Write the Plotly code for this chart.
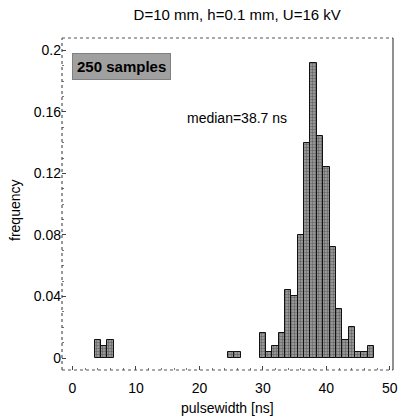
import plotly.graph_objects as go

# histogram bins (centres, ns) and sample counts per bin (250 samples total)
bin_centers = [4, 5, 6, 25, 26, 30, 31, 32, 33, 34, 35, 36, 37, 38, 39, 40, 41, 42, 43, 44, 45, 46, 47]
counts      = [3, 2, 3, 1, 1, 4, 1, 2, 4, 11, 10, 20, 35, 48, 36, 31, 18, 8, 3, 5, 1, 1, 2]
n_samples = 250
frequency = [c / n_samples for c in counts]

x_ticks = [0, 10, 20, 30, 40, 50]
y_ticks = [0, 0.04, 0.08, 0.12, 0.16, 0.2]
y_tick_text = ["0", "0.04", "0.08", "0.12", "0.16", "0.2"]

title_text = "D=10 mm, h=0.1 mm, U=16 kV"
samples_text = "<b>250 samples</b>"
median_text = "median=38.7 ns"
x_title = "pulsewidth [ns]"
y_title = "frequency"

FONT = "Liberation Sans, Arial, sans-serif"

fig = go.Figure()
fig.add_trace(go.Bar(
    x=bin_centers, y=frequency, width=1,
    marker=dict(
        color="#888888",
        line=dict(color="#111111", width=1),
        pattern=dict(shape=".", fgcolor="#2a2a2a", bgcolor="#a4a4a4", size=3, solidity=0.5),
    ),
    showlegend=False, hoverinfo="skip",
))

fig.update_layout(
    width=402, height=420,
    margin=dict(l=62, r=9, t=38, b=50, autoexpand=False),
    plot_bgcolor="white", paper_bgcolor="white",
    font=dict(family=FONT, size=13, color="black"),
    bargap=0,
    title=dict(text=title_text, x=0.59, xanchor="center", y=0.964, yanchor="middle",
               font=dict(size=15, family=FONT)),
    xaxis=dict(range=[-1.65, 50.5], tickvals=x_ticks, ticks="inside", ticklen=4,
               tickcolor="#444", showgrid=False, zeroline=False, showline=False,
               automargin=False, tickfont=dict(size=14), ticklabelstandoff=8,
               minor=dict(ticks="inside", ticklen=2, dtick=2, tickcolor="#777")),
    yaxis=dict(range=[-0.0078, 0.208], tickvals=y_ticks, ticktext=y_tick_text, ticks="inside",
               ticklen=4, tickcolor="#444", showgrid=False, zeroline=False, showline=False,
               automargin=False, tickfont=dict(size=14),
               minor=dict(ticks="inside", ticklen=2, dtick=0.01, tickcolor="#777")),
)

# frame: dotted left/top/bottom, solid right
fig.add_shape(type="line", xref="paper", yref="paper", x0=0, x1=0, y0=0, y1=1,
              line=dict(color="#333", width=1, dash="dot"))
fig.add_shape(type="line", xref="paper", yref="paper", x0=0, x1=1, y0=1, y1=1,
              line=dict(color="#555", width=1, dash="dot"))
fig.add_shape(type="line", xref="paper", yref="paper", x0=0, x1=1, y0=0, y1=0,
              line=dict(color="#555", width=1, dash="dot"))
fig.add_shape(type="line", xref="paper", yref="paper", x0=1, x1=1, y0=0, y1=1,
              line=dict(color="#222", width=1))

# axis titles
fig.add_annotation(text=x_title, xref="paper", yref="paper", x=0.5, y=-0.114,
                   xanchor="center", yanchor="middle", showarrow=False,
                   font=dict(size=14, family=FONT))
fig.add_annotation(text=y_title, xref="paper", yref="paper", x=-0.142, y=0.482,
                   xanchor="center", yanchor="middle", showarrow=False, textangle=-90,
                   font=dict(size=14, family=FONT))

fig.add_annotation(text=samples_text, xref="paper", yref="paper", x=0.03, y=0.913,
                   xanchor="left", yanchor="middle", showarrow=False,
                   font=dict(size=15, family=FONT, color="black"),
                   bgcolor="#a0a0a0", bordercolor="#808080", borderwidth=1, borderpad=4)
fig.add_annotation(text=median_text, x=25.9, y=0.156, xref="x", yref="y",
                   xanchor="center", yanchor="middle", showarrow=False,
                   font=dict(size=14, family=FONT, color="black"))

fig.write_html("out.html", config={"displayModeBar": False},
               post_script="document.body.style.margin='0';document.body.style.padding='0';")
